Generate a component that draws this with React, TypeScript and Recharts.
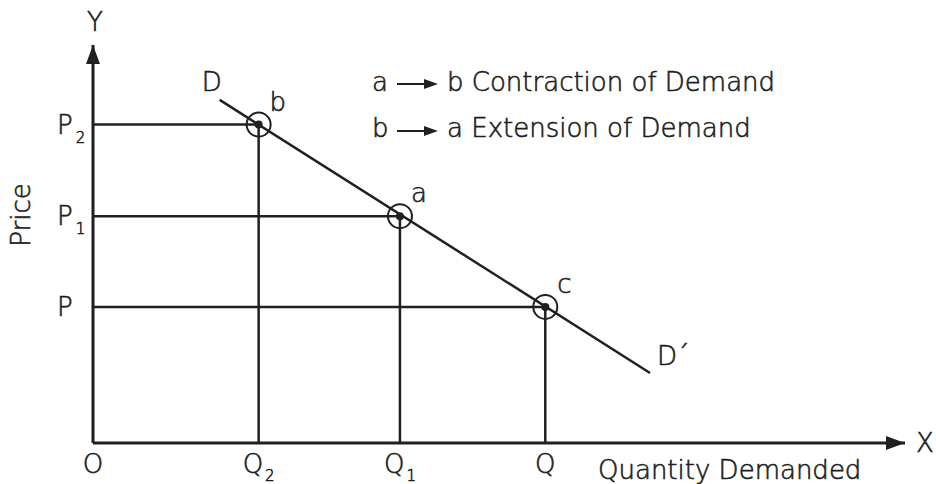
import React from "react";
import {
  ComposedChart,
  Line,
  Scatter,
  XAxis,
  YAxis,
  ReferenceLine,
  ReferenceDot,
} from "recharts";

// Demand curve end points (quantity, price)
const demandLine = [
  { q: 15.6, p: 86.2, name: "D" },
  { q: 68.6, p: 17.6, name: "D\u00B4" },
];

// Points on the demand curve
const pointNames = ["b", "a", "c"];
const pointQty = [20.4, 37.8, 55.7];
const pointPrice = [80.0, 57.0, 34.2];

// Tick labels
const xTickValues = [0, 20.4, 37.8, 55.7];
const xTickMain = ["O", "Q", "Q", "Q"];
const xTickSub = ["", "2", "1", ""];
const yTickValues = [34.2, 57.0, 80.0];
const yTickMain = ["P", "P", "P"];
const yTickSub = ["", "1", "2"];

const legendLines = [
  ["a", "b Contraction of Demand"],
  ["b", "a Extension of Demand"],
];

const INK = "#231f20";
const FONT = "'DejaVu Sans', sans-serif";
const FW = 200;
const FS = 26;
const TS = 0.6; // text outline to thicken the light face

const textStyle = { stroke: INK, strokeWidth: TS };

const points = pointNames.map((n, i) => ({ name: n, q: pointQty[i], p: pointPrice[i] }));

const XTick = (props: any) => {
  const { x, y, payload } = props;
  const i = xTickValues.indexOf(payload.value);
  if (i < 0) return null;
  return (
    <text x={x} y={y + 22} textAnchor="middle" fontFamily={FONT} fontWeight={FW} fontSize={FS} fill={INK} style={textStyle}>
      {xTickMain[i]}
      {xTickSub[i] ? (
        <tspan fontSize={15} dx={2} dy={8}>
          {xTickSub[i]}
        </tspan>
      ) : null}
    </text>
  );
};

const YTick = (props: any) => {
  const { y, payload } = props;
  const i = yTickValues.indexOf(payload.value);
  if (i < 0) return null;
  return (
    <text x={57} y={y + 9} textAnchor="start" fontFamily={FONT} fontWeight={FW} fontSize={FS} fill={INK} style={textStyle}>
      {yTickMain[i]}
      {yTickSub[i] ? (
        <tspan fontSize={15} dx={3} dy={9}>
          {yTickSub[i]}
        </tspan>
      ) : null}
    </text>
  );
};

const PointShape = (props: any) => {
  const { cx, cy, payload } = props;
  return (
    <g>
      <circle cx={cx} cy={cy} r={12} fill="none" stroke={INK} strokeWidth={2} />
      <circle cx={cx} cy={cy} r={4} fill={INK} />
      <text x={cx + 19} y={cy - 14} textAnchor="middle" fontFamily={FONT} fontWeight={FW} fontSize={FS} fill={INK} style={textStyle}>
        {payload.name}
      </text>
    </g>
  );
};

const EndLabel = (props: any) => {
  const { x, y, index } = props;
  const name = demandLine[index].name;
  if (index === 0) {
    return (
      <text x={x - 8} y={y - 9} textAnchor="middle" fontFamily={FONT} fontWeight={FW} fontSize={FS} fill={INK} style={textStyle}>
        {name}
      </text>
    );
  }
  return (
    <text x={x + 7} y={y - 8} textAnchor="start" fontFamily={FONT} fontWeight={FW} fontSize={FS} fill={INK} style={textStyle}>
      {name}
    </text>
  );
};

const ArrowRight = (props: any) => {
  const { cx, cy } = props;
  return <polygon points={`${cx},${cy} ${cx - 19},${cy - 7} ${cx - 19},${cy + 7}`} fill={INK} />;
};
const ArrowUp = (props: any) => {
  const { cx, cy } = props;
  return <polygon points={`${cx},${cy} ${cx - 7},${cy + 19} ${cx + 7},${cy + 19}`} fill={INK} />;
};

export default function App() {
  return (
    <div style={{ position: "absolute", left: 0, top: 0, width: 936, height: 484, background: "#fff" }}>
      <ComposedChart
        width={936}
        height={484}
        margin={{ top: 45, right: 31, bottom: 0, left: 33 }}
      >
        <XAxis
          type="number"
          dataKey="q"
          domain={[0, 100]}
          allowDataOverflow
          ticks={xTickValues}
          tick={<XTick />}
          tickLine={false}
          axisLine={{ stroke: INK, strokeWidth: 3 }}
          height={41}
          interval={0}
        />
        <YAxis
          type="number"
          dataKey="p"
          domain={[0, 100]}
          allowDataOverflow
          ticks={yTickValues}
          tick={<YTick />}
          tickLine={false}
          axisLine={{ stroke: INK, strokeWidth: 3 }}
          width={60}
          interval={0}
        />
        {points.map((pt) => (
          <ReferenceLine
            key={"h" + pt.name}
            segment={[
              { x: 0, y: pt.p },
              { x: pt.q, y: pt.p },
            ]}
            stroke={INK}
            strokeWidth={2.5}
            ifOverflow="visible"
          />
        ))}
        {points.map((pt) => (
          <ReferenceLine
            key={"v" + pt.name}
            segment={[
              { x: pt.q, y: 0 },
              { x: pt.q, y: pt.p },
            ]}
            stroke={INK}
            strokeWidth={2.5}
            ifOverflow="visible"
          />
        ))}
        <Line
          data={demandLine}
          dataKey="p"
          type="linear"
          stroke={INK}
          strokeWidth={2.5}
          dot={false}
          activeDot={false}
          isAnimationActive={false}
          label={<EndLabel />}
        />
        <Scatter data={points} dataKey="p" shape={<PointShape />} isAnimationActive={false} />
        <ReferenceDot x={100} y={0} r={0} ifOverflow="visible" shape={<ArrowRight />} />
        <ReferenceDot x={0} y={100} r={0} ifOverflow="visible" shape={<ArrowUp />} />
      </ComposedChart>
      <svg
        width={936}
        height={484}
        style={{ position: "absolute", left: 0, top: 0, pointerEvents: "none" }}
        fontFamily={FONT}
        fontWeight={FW}
        fill={INK}
        stroke={INK}
        strokeWidth={TS}
      >
        <text x={95} y={31} textAnchor="middle" fontSize={FS}>Y</text>
        <text x={916} y={452} textAnchor="start" fontSize={FS}>X</text>
        <text x={30} y={215} textAnchor="middle" fontSize={FS} transform="rotate(-90 30 215)">Price</text>
        <text x={598} y={479} textAnchor="start" fontSize={FS}>Quantity Demanded</text>
        {legendLines.map((ln, i) => {
          const by = 91 + i * 46;
          const ay = 84 + i * 47;
          return (
            <g key={i}>
              <text x={372} y={by} fontSize={FS}>{ln[0]}</text>
              <line x1={397} y1={ay} x2={428} y2={ay} stroke={INK} strokeWidth={2} />
              <polygon points={`438,${ay} 424,${ay - 5} 424,${ay + 5}`} fill={INK} stroke="none" />
              <text x={447} y={by} fontSize={FS}>{ln[1]}</text>
            </g>
          );
        })}
      </svg>
    </div>
  );
}
